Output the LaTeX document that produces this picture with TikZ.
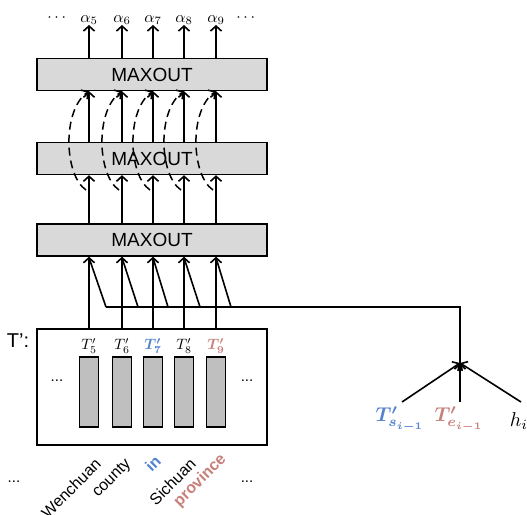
\documentclass[tikz,border=0pt]{standalone}
\usepackage{amsmath,bm}
\usepackage{fontspec}
\setmainfont{Liberation Sans}
\usetikzlibrary{arrows.meta}
\definecolor{tblue}{RGB}{84,130,208}
\definecolor{tred}{RGB}{200,128,122}
\definecolor{boxgray}{RGB}{217,217,217}
\definecolor{bargray}{RGB}{191,191,191}
\begin{document}
\begin{tikzpicture}[x=1pt,y=-1pt,
  mx/.style={draw, line width=1.4pt, fill=boxgray, minimum width=230pt,
    minimum height=32pt, inner sep=0pt, font=\fontsize{19}{19}\selectfont},
  bar/.style={draw, line width=1.4pt, fill=bargray, minimum width=19pt,
    minimum height=70pt, inner sep=0pt},
  tip/.tip={Straight Barb[length=5pt,width=11pt,line width=1.6pt]},
  arr/.style={line width=1.6pt, -tip},
  plain/.style={line width=1.6pt},
  skip/.style={line width=1.5pt, dash pattern=on 8pt off 5pt, -tip},
  word/.style={rotate=45, anchor=east, inner sep=0pt, font=\fontsize{16}{16}\selectfont},
  dots/.style={inner sep=0pt, font=\fontsize{15}{15}\selectfont},
  alab/.style={inner sep=0pt, scale=1.6},
  tlab/.style={inner sep=0pt, scale=1.5},
  slab/.style={inner sep=0pt, scale=2}]
\useasboundingbox (0,0) rectangle (527,514);

% three maxout layers and the T' block
\node[mx] (m3) at (152,74.5) {MAXOUT};
\node[mx] (m2) at (152,158.5) {MAXOUT};
\node[mx] (m1) at (152,240) {MAXOUT};
\node[draw, line width=1.6pt, minimum width=230pt, minimum height=116pt, inner sep=0pt] (tb) at (152,387) {};
\node[inner sep=0pt, font=\fontsize{20}{20}\selectfont] (tl) at (18,341) {T':};

% column positions, hidden vectors and outputs
\foreach \k/\x in {5/89,6/122,7/153,8/184,9/216}{
  \coordinate (c\k) at (\x,0);
  \node[bar] (b\k) at (\x,392) {};
  \node[alab] (a\k) at (\x,20) {$\alpha_{\k}$};
}
\node[tlab] (t5) at (c5 |- 0,346) {$T'_5$};
\node[tlab] (t6) at (c6 |- 0,346) {$T'_6$};
\node[tlab, text=tblue] (t7) at (c7 |- 0,346) {$\bm{T'_7}$};
\node[tlab] (t8) at (c8 |- 0,346) {$T'_8$};
\node[tlab, text=tred] (t9) at (c9 |- 0,346) {$\bm{T'_9}$};

% ellipses
\node[alab] (d1) at (58,18) {$\cdots$};
\node[alab] (d2) at (247,18) {$\cdots$};
\node[dots] (d3) at (57,381) {...};
\node[dots] (d4) at (247,381) {...};
\node[dots] (d5) at (14,482) {...};
\node[dots] (d6) at (247,482) {...};

% input words
\node[word] (w5) at (98,461) {Wenchuan};
\node[word] (w6) at (129,462) {county};
\node[word, text=tblue] (w7) at (158,458) {\bfseries in};
\node[word] (w8) at (193,461) {Sichuan};
\node[word, text=tred] (w9) at (224,457) {\bfseries province};

% vertical connections
\foreach \k in {5,6,7,8,9}{
  \draw[arr] (m3.north -| c\k) -- (a\k.south);
  \draw[arr] (m2.north -| c\k) -- (m3.south -| c\k);
  \draw[arr] (m1.north -| c\k) -- (m2.south -| c\k);
  \draw[arr] (tb.north -| c\k) -- (m1.south -| c\k);
}

% skip connections over the middle layer
\foreach \k/\x in {5/89,6/122,7/153,8/184,9/216}{
  \coordinate (s\k) at (\x-3,190);
  \draw[skip] (s\k) .. controls (\x-25,175) and (\x-27,110) .. (m3.south -| c\k);
}

% state inputs
\node[slab, text=tblue] (ts) at (400,419) {$\bm{T'_{s_{i-1}}}$};
\node[slab, text=tred] (te) at (459,419) {$\bm{T'_{e_{i-1}}}$};
\node[slab] (hi) at (519,421) {$h_i$};
\coordinate (j) at (460,363);
\coordinate (ts0) at (402,402);
\coordinate (te0) at (460,402);
\coordinate (hi0) at (521,402);
\draw[arr] (ts0) -- (j);
\draw[arr] (te0) -- (j);
\draw[arr] (hi0) -- (j);

% broadcast bus to the first layer
\coordinate (bus) at (460,307);
\coordinate (bl) at (106,307);
\draw[plain] (j) -- (bus) -- (bl);
\foreach \k/\x in {5/106,6/138,7/168,8/200,9/231}{
  \draw[plain] (\x,307) -- ([yshift=-1pt]m1.south -| c\k);
}
\end{tikzpicture}
\end{document}
